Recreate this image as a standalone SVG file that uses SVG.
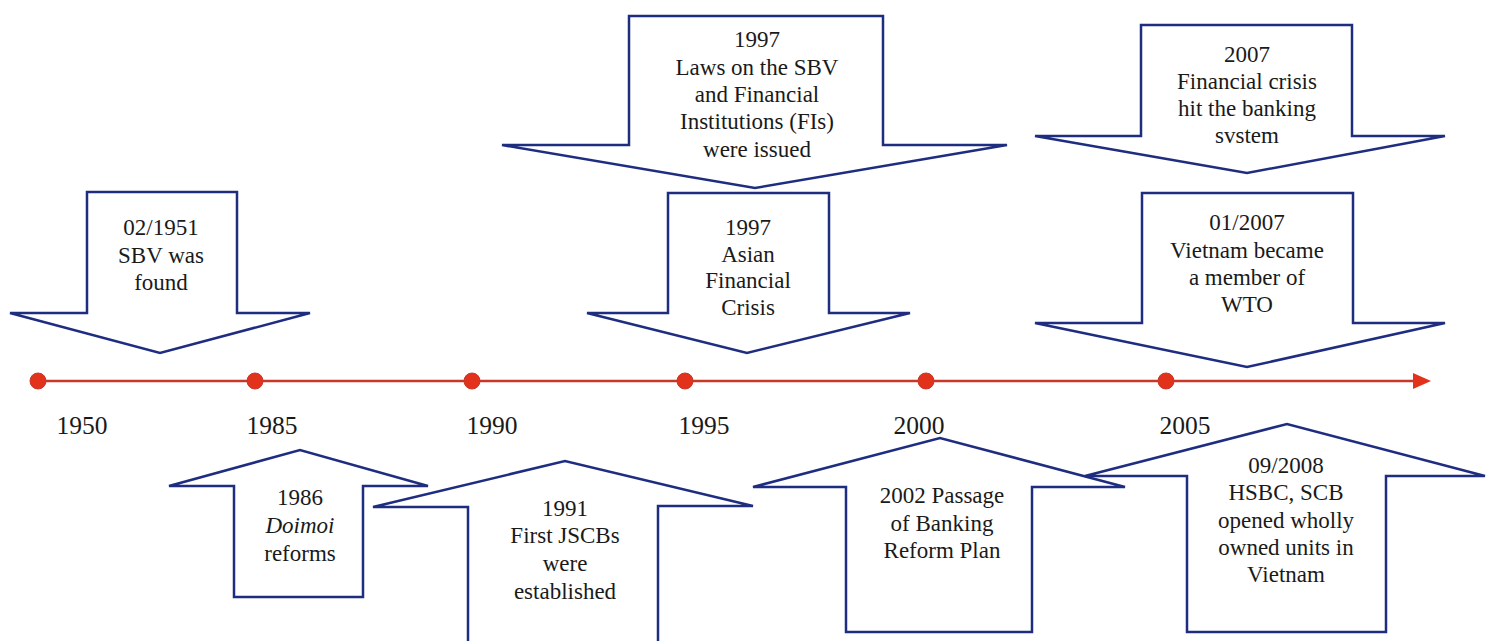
<svg xmlns="http://www.w3.org/2000/svg" width="1489" height="641" viewBox="0 0 1489 641">
  <style>
    .box { fill: #ffffff; stroke: #1f2d80; stroke-width: 2.5; stroke-linejoin: miter; }
    .txt { font-family: 'Liberation Serif', 'DejaVu Serif', serif; font-size: 23px; fill: #1a1a1a; text-anchor: middle; }
    .yr { font-family: 'Liberation Serif', 'DejaVu Serif', serif; font-size: 25.5px; fill: #1a1a1a; text-anchor: middle; }
    .axis { stroke: #c8362a; stroke-width: 2.5; }
    .dot { fill: #e2321c; stroke: #c8362a; stroke-width: 1; }
  </style>
  <rect width="1489" height="641" fill="#ffffff"/>

  <!-- timeline axis and year markers -->
  <g id="connectors">
    <line class="axis" x1="38" y1="381" x2="1415" y2="381"/>
    <polygon points="1413,373 1431,381 1413,389" fill="#e2321c"/>
  </g>
  <g id="markers">
    <circle class="dot" cx="38" cy="381" r="8"/>
    <circle class="dot" cx="255" cy="381" r="8"/>
    <circle class="dot" cx="472" cy="381" r="8"/>
    <circle class="dot" cx="685" cy="381" r="8"/>
    <circle class="dot" cx="926" cy="381" r="8"/>
    <circle class="dot" cx="1166" cy="381" r="8"/>
  </g>
  <g id="years" font-family="Liberation Serif, serif">
    <text class="yr" x="82" y="434">1950</text>
    <text class="yr" x="272" y="434">1985</text>
    <text class="yr" x="492" y="434">1990</text>
    <text class="yr" x="704" y="434">1995</text>
    <text class="yr" x="919" y="434">2000</text>
    <text class="yr" x="1185" y="434">2005</text>
  </g>

  <!-- events above the axis -->
  <g id="ev-1951">
    <path class="box" d="M87,192 H237 V313 H310 L160,353 L10,313 H87 Z"/>
    <text class="txt" x="161" y="235">02/1951</text>
    <text class="txt" x="161" y="263">SBV was</text>
    <text class="txt" x="161" y="290">found</text>
  </g>
  <g id="ev-1997-laws">
    <path class="box" d="M629,16 H883 V145 H1007 L755,188 L502,145 H629 Z"/>
    <text class="txt" x="757" y="47">1997</text>
    <text class="txt" x="757" y="75">Laws on the SBV</text>
    <text class="txt" x="757" y="102">and Financial</text>
    <text class="txt" x="757" y="129">Institutions (FIs)</text>
    <text class="txt" x="757" y="157">were issued</text>
  </g>
  <g id="ev-1997-crisis">
    <path class="box" d="M668,193 H829 V313 H910 L747,353 L587,313 H668 Z"/>
    <text class="txt" x="748" y="235">1997</text>
    <text class="txt" x="748" y="262">Asian</text>
    <text class="txt" x="748" y="288">Financial</text>
    <text class="txt" x="748" y="315">Crisis</text>
  </g>
  <g id="ev-2007-crisis">
    <path class="box" d="M1141,25 H1352 V136 H1445 L1247,173 L1035,136 H1141 Z"/>
    <text class="txt" x="1247" y="62">2007</text>
    <text class="txt" x="1247" y="89">Financial crisis</text>
    <text class="txt" x="1247" y="116">hit the banking</text>
    <text class="txt" x="1247" y="143">svstem</text>
  </g>
  <g id="ev-2007-wto">
    <path class="box" d="M1142,193 H1353 V323 H1445 L1247,367 L1035,323 H1142 Z"/>
    <text class="txt" x="1247" y="230">01/2007</text>
    <text class="txt" x="1247" y="258">Vietnam became</text>
    <text class="txt" x="1247" y="285">a member of</text>
    <text class="txt" x="1247" y="312">WTO</text>
  </g>

  <!-- events below the axis -->
  <g id="ev-1986">
    <path class="box" d="M234,597 V486 H169 L300,450 L428,486 H363 V597 Z"/>
    <text class="txt" x="300" y="505">1986</text>
    <text class="txt" x="300" y="533" font-style="italic">Doimoi</text>
    <text class="txt" x="300" y="561">reforms</text>
  </g>
  <g id="ev-1991">
    <path class="box" d="M468,660 V507 H373 L565,461 L753,506 H658 V660"/>
    <text class="txt" x="565" y="516">1991</text>
    <text class="txt" x="565" y="543">First JSCBs</text>
    <text class="txt" x="565" y="571">were</text>
    <text class="txt" x="565" y="599">established</text>
  </g>
  <g id="ev-2002">
    <path class="box" d="M846,632 V487 H753 L940,438 L1125,487 H1032 V632 Z"/>
    <text class="txt" x="942" y="503">2002 Passage</text>
    <text class="txt" x="942" y="531">of Banking</text>
    <text class="txt" x="942" y="558">Reform Plan</text>
  </g>
  <g id="ev-2008">
    <path class="box" d="M1187,632 V476 H1085 L1287,424 L1485,476 H1386 V632 Z"/>
    <text class="txt" x="1286" y="473">09/2008</text>
    <text class="txt" x="1286" y="500">HSBC, SCB</text>
    <text class="txt" x="1286" y="528">opened wholly</text>
    <text class="txt" x="1286" y="555">owned units in</text>
    <text class="txt" x="1286" y="582">Vietnam</text>
  </g>
</svg>
